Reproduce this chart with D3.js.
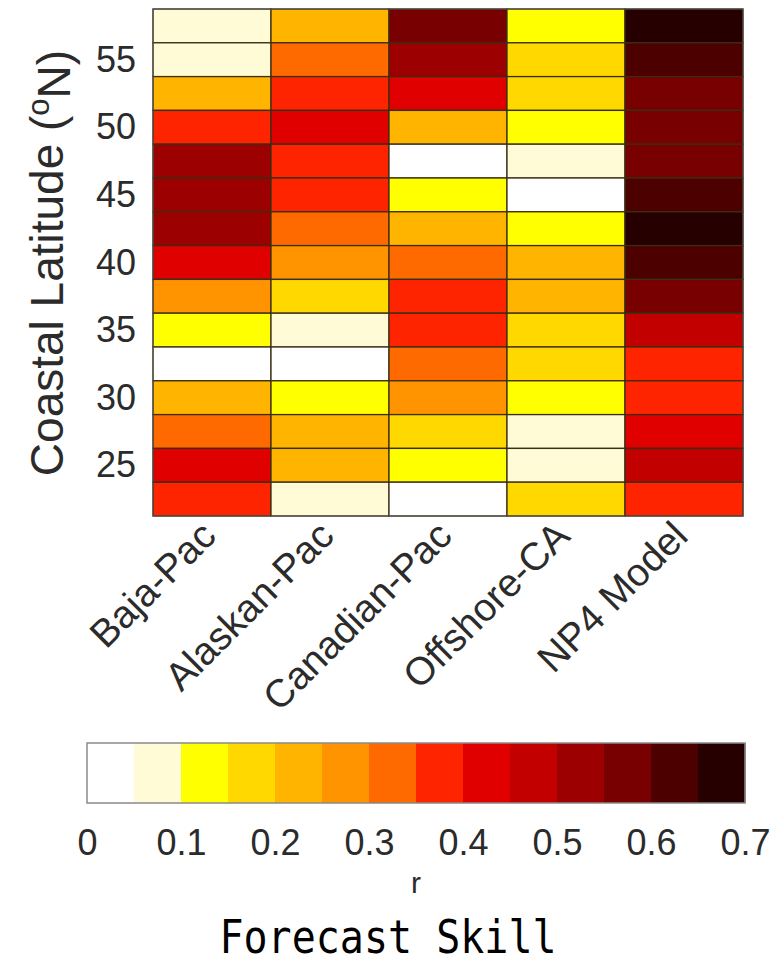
<!DOCTYPE html>
<html>
<head>
<meta charset="utf-8">
<script src="https://cdn.jsdelivr.net/npm/d3@7"></script>
<style>
body { margin: 0; background: #fff; }
svg text { font-family: "Liberation Sans", Arial, sans-serif; fill: #2b2b2b; }
</style>
</head>
<body>
<svg id="chart" width="774" height="965"></svg>
<script>
// regions (columns) and latitude bands (rows, top to bottom)
var regions = ["Baja-Pac", "Alaskan-Pac", "Canadian-Pac", "Offshore-CA", "NP4 Model"];
var latitudes = [57.5, 55, 52.5, 50, 47.5, 45, 42.5, 40, 37.5, 35, 32.5, 30, 27.5, 25, 22.5];

// forecast skill r, one list per region, same order as latitudes
var skill_baja     = [0.07, 0.07, 0.22, 0.37, 0.52, 0.52, 0.52, 0.42, 0.27, 0.12, 0.02, 0.22, 0.32, 0.42, 0.37];
var skill_alaskan  = [0.22, 0.32, 0.37, 0.42, 0.37, 0.37, 0.32, 0.27, 0.17, 0.07, 0.02, 0.12, 0.22, 0.22, 0.07];
var skill_canadian = [0.57, 0.52, 0.42, 0.22, 0.02, 0.12, 0.22, 0.32, 0.37, 0.37, 0.32, 0.27, 0.17, 0.12, 0.02];
var skill_offshore = [0.12, 0.17, 0.17, 0.12, 0.07, 0.02, 0.12, 0.22, 0.22, 0.17, 0.17, 0.12, 0.07, 0.07, 0.17];
var skill_np4      = [0.67, 0.62, 0.57, 0.57, 0.57, 0.62, 0.67, 0.62, 0.57, 0.47, 0.37, 0.37, 0.42, 0.47, 0.37];

// colorbar bin edges and colours
var levels = [0, 0.05, 0.1, 0.15, 0.2, 0.25, 0.3, 0.35, 0.4, 0.45, 0.5, 0.55, 0.6, 0.65, 0.7];
var level_colors = ["#ffffff", "#fffbd6", "#ffff00", "#ffd800", "#ffb400", "#ff9400", "#ff6a00",
                    "#ff2400", "#e00000", "#c20000", "#9c0000", "#780000", "#4c0000", "#260000"];
var lat_ticks = [25, 30, 35, 40, 45, 50, 55];
var cbar_ticks = [0, 0.1, 0.2, 0.3, 0.4, 0.5, 0.6, 0.7];

var skill_by_region = [skill_baja, skill_alaskan, skill_canadian, skill_offshore, skill_np4];
var latHalf = 1.25;

var svg = d3.select("#chart");

var xBand = d3.scaleBand().domain(regions).range([153, 743]);
var yLat = d3.scaleLinear().domain([21.25, 58.75]).range([516, 9]);
var color = d3.scaleThreshold().domain(levels.slice(1, -1)).range(level_colors);

// build cells
var cells = [];
for (var c = 0; c < regions.length; c++) {
    for (var i = 0; i < latitudes.length; i++) {
        cells.push({ region: regions[c], lat: latitudes[i], r: skill_by_region[c][i] });
    }
}

svg.append("g")
    .selectAll("rect")
    .data(cells)
    .enter()
    .append("rect")
    .attr("x", function (d) { return xBand(d.region); })
    .attr("y", function (d) { return yLat(d.lat + latHalf); })
    .attr("width", xBand.bandwidth())
    .attr("height", function (d) { return yLat(d.lat - latHalf) - yLat(d.lat + latHalf); })
    .style("fill", function (d) { return color(d.r); })
    .style("stroke", "#3b2d14")
    .style("stroke-width", 1.3);

// outer frame
svg.append("rect")
    .attr("x", 153).attr("y", 9)
    .attr("width", 590).attr("height", 507)
    .style("fill", "none")
    .style("stroke", "#555")
    .style("stroke-width", 1);

// y axis
var yAxis = svg.append("g")
    .attr("transform", "translate(153,0)")
    .call(d3.axisLeft(yLat).tickValues(lat_ticks).tickSize(0).tickPadding(17));
yAxis.select(".domain").remove();
yAxis.selectAll("text")
    .style("font-size", "36px")
    .style("font-family", "'Liberation Sans', Arial, sans-serif")
    .style("fill", "#2b2b2b");

var ylab = svg.append("text")
    .attr("transform", "translate(63,263) rotate(-90)")
    .attr("text-anchor", "middle")
    .style("font-size", "46px");
ylab.append("tspan").text("Coastal Latitude (");
ylab.append("tspan").attr("dy", "-0.45em").style("font-size", "31px").text("o");
ylab.append("tspan").attr("dy", "0.45em").text("N)");

// rotated region labels
svg.append("g")
    .selectAll("text")
    .data(regions)
    .enter()
    .append("text")
    .attr("transform", function (d) {
        return "translate(" + (xBand(d) + xBand.bandwidth() / 2 + 6) + ",538) rotate(-45)";
    })
    .attr("text-anchor", "end")
    .style("font-size", "39px")
    .text(function (d) { return d; });

// colorbar
var xC = d3.scaleLinear().domain([0, 0.7]).range([87, 745]);
svg.append("g")
    .selectAll("rect")
    .data(level_colors)
    .enter()
    .append("rect")
    .attr("x", function (d, i) { return xC(levels[i]); })
    .attr("y", 743)
    .attr("width", function (d, i) { return xC(levels[i + 1]) - xC(levels[i]) + 0.5; })
    .attr("height", 60)
    .style("fill", function (d) { return d; });

svg.append("rect")
    .attr("x", 87).attr("y", 743)
    .attr("width", 658).attr("height", 60)
    .style("fill", "none")
    .style("stroke", "#8a8a8a")
    .style("stroke-width", 1.5);

var cAxis = svg.append("g")
    .attr("transform", "translate(0,803)")
    .call(d3.axisBottom(xC).tickValues(cbar_ticks).tickSize(0).tickPadding(26)
        .tickFormat(function (d) { return d === 0 ? "0" : d.toFixed(1); }));
cAxis.select(".domain").remove();
cAxis.selectAll("text")
    .style("font-size", "36px")
    .style("font-family", "'Liberation Sans', Arial, sans-serif")
    .style("fill", "#2b2b2b");

svg.append("text")
    .attr("x", 416).attr("y", 893)
    .attr("text-anchor", "middle")
    .style("font-size", "30px")
    .text("r");

svg.append("text")
    .attr("transform", "translate(388,953) scale(1,1.15)")
    .attr("text-anchor", "middle")
    .style("font-family", "'DejaVu Sans Mono', monospace")
    .style("fill", "#000")
    .style("font-size", "40px")
    .text("Forecast Skill");
</script>
</body>
</html>
